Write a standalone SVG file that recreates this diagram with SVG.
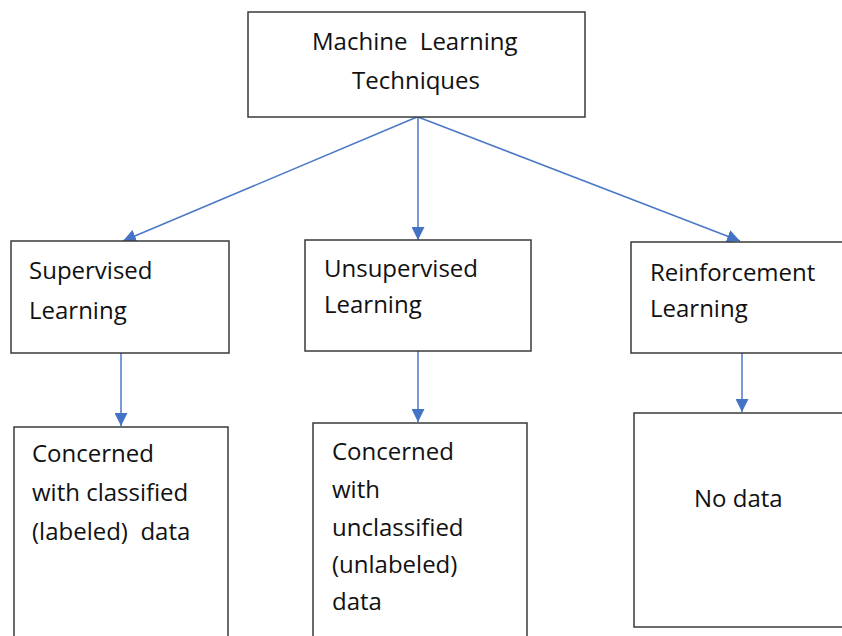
<svg xmlns="http://www.w3.org/2000/svg" width="842" height="636" viewBox="0 0 842 636">
  <style>
    .box { fill: #ffffff; stroke: #3a3a3a; stroke-width: 1.5; }
    .label { font-family: "Open Sans", "Noto Sans", "Liberation Sans", sans-serif; font-size: 24px; fill: #111111; }
    .link { fill: none; stroke: #4a78c8; stroke-width: 1.5; }
  </style>
  <defs>
    <marker id="arrow" viewBox="0 0 10 10" refX="10" refY="5" markerUnits="userSpaceOnUse" markerWidth="13" markerHeight="13" orient="auto">
      <path d="M0,0 L10,5 L0,10 Z" fill="#4472c4"/>
    </marker>
  </defs>
  <rect width="842" height="636" fill="#ffffff"/>

  <g id="connectors">
    <line class="link" x1="417" y1="117" x2="123" y2="241" marker-end="url(#arrow)"/>
    <line class="link" x1="418" y1="117" x2="418" y2="240" marker-end="url(#arrow)"/>
    <line class="link" x1="418" y1="117" x2="740" y2="241" marker-end="url(#arrow)"/>
    <line class="link" x1="121" y1="353" x2="121" y2="426" marker-end="url(#arrow)"/>
    <line class="link" x1="418" y1="351" x2="418" y2="422" marker-end="url(#arrow)"/>
    <line class="link" x1="742" y1="353" x2="742" y2="412" marker-end="url(#arrow)"/>
  </g>

  <g id="ml-techniques">
    <rect class="box" x="248" y="12" width="337" height="105"/>
    <text class="label" x="312" y="50" xml:space="preserve">Machine  Learning</text>
    <text class="label" x="352" y="88.5">Techniques</text>
  </g>

  <g id="supervised">
    <rect class="box" x="11" y="241" width="218" height="112"/>
    <text class="label" x="29" y="279">Supervised</text>
    <text class="label" x="29" y="319">Learning</text>
  </g>

  <g id="unsupervised">
    <rect class="box" x="305" y="240" width="226" height="111"/>
    <text class="label" x="324" y="277">Unsupervised</text>
    <text class="label" x="324" y="313">Learning</text>
  </g>

  <g id="reinforcement">
    <rect class="box" x="631" y="242" width="220" height="111"/>
    <text class="label" x="650" y="281">Reinforcement</text>
    <text class="label" x="650" y="317">Learning</text>
  </g>

  <g id="supervised-data">
    <rect class="box" x="14" y="427" width="214" height="220"/>
    <text class="label" x="32" y="462">Concerned</text>
    <text class="label" x="32" y="501">with classified</text>
    <text class="label" x="32" y="540" xml:space="preserve">(labeled)  data</text>
  </g>

  <g id="unsupervised-data">
    <rect class="box" x="313" y="423" width="214" height="224"/>
    <text class="label" x="332" y="460">Concerned</text>
    <text class="label" x="332" y="498">with</text>
    <text class="label" x="332" y="536">unclassified</text>
    <text class="label" x="332" y="573">(unlabeled)</text>
    <text class="label" x="332" y="610">data</text>
  </g>

  <g id="reinforcement-data">
    <rect class="box" x="634" y="413" width="217" height="214"/>
    <text class="label" x="694" y="507">No data</text>
  </g>
</svg>
